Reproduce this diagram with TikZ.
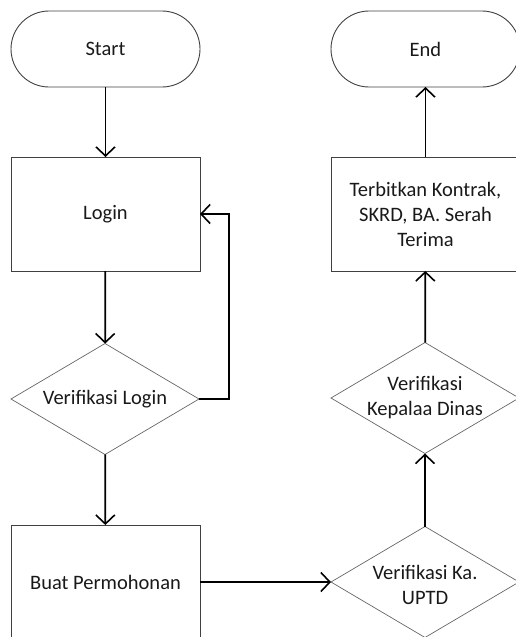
\documentclass[tikz,border=0pt]{standalone}
\usepackage{fontspec}
\setmainfont{Carlito}
\usetikzlibrary{arrows.meta,shapes.geometric}
\begin{document}
\begin{tikzpicture}[x=1pt,y=-1pt,
  txt/.style={font=\fontsize{20.5}{25}\selectfont, text=black!90, align=center},
  box/.style={txt, draw=black!75, line width=0.9pt, minimum width=189pt, minimum height=114pt, inner sep=0pt, outer sep=0pt},
  term/.style={box, minimum height=76pt, rounded corners=38pt},
  dec/.style={draw=black!60, line width=0.7pt, diamond, inner sep=0pt, outer sep=0pt, minimum width=188pt, minimum height=111pt},
  lbl/.style={txt, inner sep=0pt},
  conn/.style={line width=1.7pt, -{Straight Barb[length=9pt,width=19pt,line width=1.6pt]}}
]
\useasboundingbox (0,0) rectangle (515,637);
\node[term] (start) at (105.5,49) {Start};
\node[box] (login) at (105.5,214) {Login};
\node[dec, label={[lbl]center:Verifikasi Login}] (vl) at (105,399) {};
\node[box] (bp) at (105.5,582) {Buat Permohonan};
\node[dec, label={[lbl,yshift=-3pt]center:Verifikasi Ka.\\UPTD}] (uptd) at (425,582) {};
\node[dec, label={[lbl]center:Verifikasi\\Kepalaa Dinas}] (kd) at (425,398) {};
\node[box] (tk) at (425.5,214) {Terbitkan Kontrak,\\SKRD, BA. Serah\\Terima};
\node[term] (end) at (425.5,49) {End};
\draw[conn] (start) -- (login);
\draw[conn] (login) -- (vl);
\draw[conn] (vl.east) -- ++(30,0) |- (login.east);
\draw[conn] (vl) -- (bp);
\draw[conn] (bp.east) -- (uptd.west);
\draw[conn] (uptd) -- (kd);
\draw[conn] (kd) -- (tk);
\draw[conn] (tk) -- (end);
\end{tikzpicture}
\end{document}
